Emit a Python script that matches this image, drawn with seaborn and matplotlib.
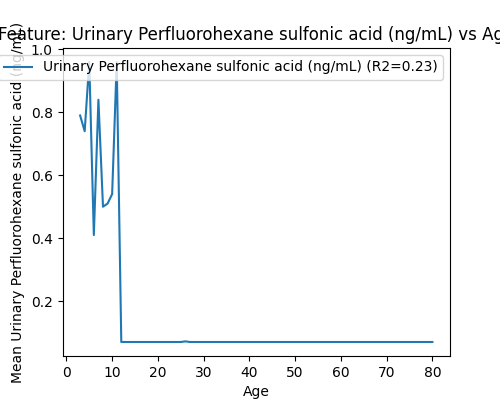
import matplotlib
matplotlib.use("Agg")
import matplotlib.pyplot as plt
import seaborn as sns
import pandas as pd

feature = "Urinary Perfluorohexane sulfonic acid (ng/mL)"
ages = [3, 4, 5, 6, 7, 8, 9, 10, 11, 12, 25, 26, 27, 80]
values = [0.79, 0.74, 0.96, 0.41, 0.84, 0.50, 0.51, 0.54, 0.96, 0.07, 0.07, 0.072, 0.07, 0.07]
r2 = 0.23

df = pd.DataFrame({"Age": ages, "value": values})

fig, ax = plt.subplots(figsize=(5, 4), dpi=100)
sns.lineplot(data=df, x="Age", y="value", ax=ax, color="#1f77b4",
             label=f"{feature} (R2={r2:.2f})")
ax.set_title(f"Feature: {feature} vs Age")
ax.set_xlabel("Age")
ax.set_ylabel(f"Mean {feature}")
ax.legend(loc="upper right")
fig.savefig("out.png", dpi=100)
